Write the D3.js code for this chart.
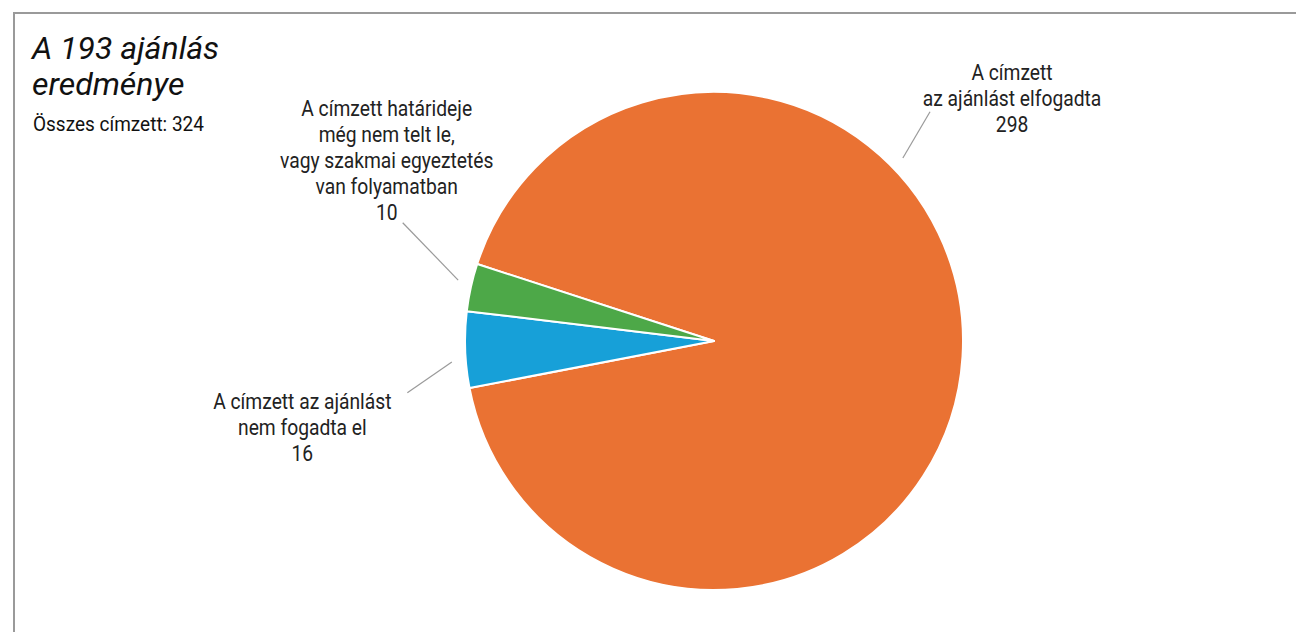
<!DOCTYPE html>
<html><head><meta charset="utf-8">
<script src="https://cdn.jsdelivr.net/npm/d3@7"></script>
<style>
html,body{margin:0;padding:0;background:#fff;overflow:hidden}
svg{display:block}
</style></head>
<body>
<svg id="chart" width="1296" height="632"></svg>
<script>
const titleLines = ["A 193 ajánlás", "eredménye"];
const subtitle = "Összes címzett: 324";
const categories = ["A címzett az ajánlást elfogadta", "A címzett az ajánlást nem fogadta el", "A címzett határideje még nem telt le, vagy szakmai egyeztetés van folyamatban"];
const values = [298, 16, 10];
const labelLines = [
  ["A címzett", "az ajánlást elfogadta"],
  ["A címzett az ajánlást", "nem fogadta el"],
  ["A címzett határideje", "még nem telt le,", "vagy szakmai egyeztetés", "van folyamatban"]
];
const colors = ["#EA7233", "#17A0D8", "#4DA848"];

// layout (angles in degrees, clockwise from top)
const cx = 714, cy = 341, R = 249;
const startDeg = -72;
const leader = [
  {a0: 45.9, r0: 263, a1: 43.3, r1: 315, dx: 82, dy: -39, anchor: "top"},
  {a0: 265.4, r0: 263, a1: 260.4, r1: 311, dx: -105, dy: 8, anchor: "top"},
  {a0: 283.4, r0: 263, a1: 290.8, r1: 333, dx: -16, dy: -10, anchor: "bottom"}
];
const lineH = 26, fs = 22, squeeze = 0.875;

const svg = d3.select("#chart");
// frame
svg.append("rect").attr("x", 14).attr("y", 13).attr("width", 1400).attr("height", 800)
  .attr("fill", "none").attr("stroke", "#9a9a9a").attr("stroke-width", 2);

// title
const t = svg.append("text").attr("font-family", "Roboto").attr("font-style", "italic")
  .attr("font-size", 32).attr("fill", "#111");
titleLines.forEach((s, i) => t.append("tspan").attr("x", 32).attr("y", 59 + i * 36).text(s));
svg.append("text").attr("transform", "translate(33,131) scale(0.95,1)")
  .attr("font-family", "Roboto").attr("font-size", 20).attr("fill", "#111").text(subtitle);

const pie = d3.pie().sort(null).value(d => d)
  .startAngle(startDeg * Math.PI / 180).endAngle((startDeg + 360) * Math.PI / 180);
const arcs = pie(values);
const arc = d3.arc().innerRadius(0).outerRadius(R);
const g = svg.append("g").attr("transform", `translate(${cx},${cy})`);
g.selectAll("path").data(arcs).join("path")
  .attr("d", arc).attr("fill", (d, i) => colors[i])
  .attr("stroke", "#fff").attr("stroke-width", 2).attr("stroke-linejoin", "round");

const polar = (deg, r) => [r * Math.sin(deg * Math.PI / 180), -r * Math.cos(deg * Math.PI / 180)];

arcs.forEach((d, i) => {
  const L = leader[i];
  const p0 = polar(L.a0, L.r0), p1 = polar(L.a1, L.r1);
  g.append("line").attr("x1", p0[0]).attr("y1", p0[1]).attr("x2", p1[0]).attr("y2", p1[1])
    .attr("stroke", "#9a9a9a").attr("stroke-width", 1.2);
  const lines = labelLines[i].concat([String(values[i])]);
  const n = lines.length;
  const tx = p1[0] + L.dx;
  const firstY = L.anchor === "top" ? p1[1] + L.dy : p1[1] + L.dy - (n - 1) * lineH;
  const txt = g.append("text")
    .attr("transform", `translate(${tx},${firstY}) scale(${squeeze},1)`)
    .attr("text-anchor", "middle").attr("font-family", "Roboto").attr("font-size", fs)
    .attr("fill", "#222");
  lines.forEach((s, k) => txt.append("tspan").attr("x", 0).attr("y", k * lineH).attr("dy", "0.35em").text(s));
});
</script>
</body></html>
